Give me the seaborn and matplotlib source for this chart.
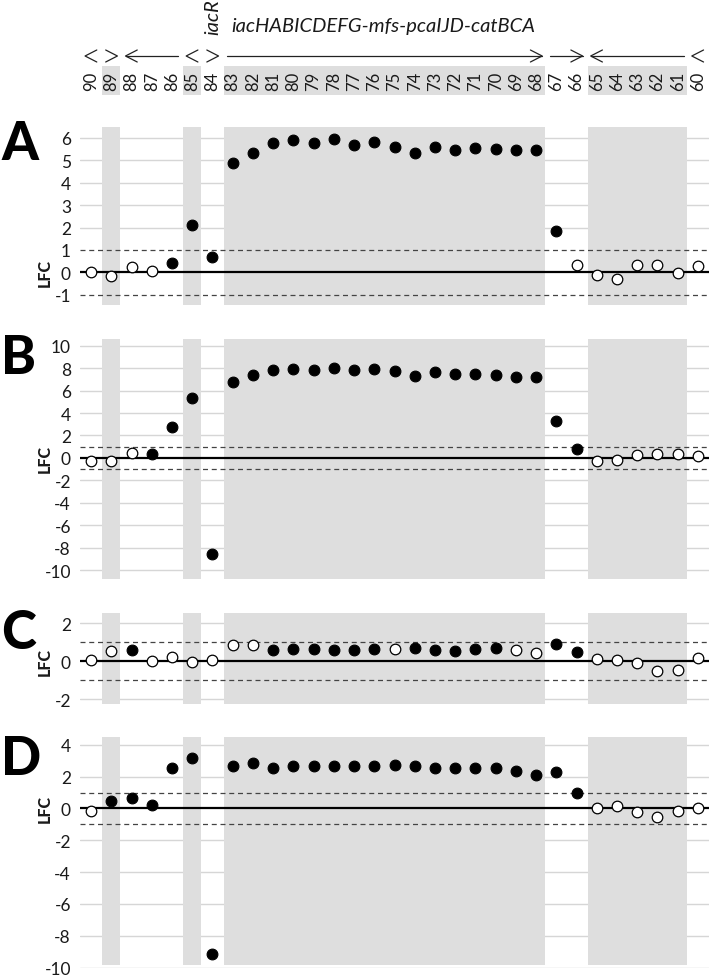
import numpy as np
import pandas as pd
import matplotlib
matplotlib.use('Agg')
import matplotlib.pyplot as plt
import matplotlib.transforms as mtransforms
from matplotlib.patches import Rectangle
import seaborn as sns

# gene numbers along the top (left to right)
genes = [90, 89, 88, 87, 86, 85, 84, 83, 82, 81, 80, 79, 78, 77, 76, 75,
         74, 73, 72, 71, 70, 69, 68, 67, 66, 65, 64, 63, 62, 61, 60]

# log fold changes per panel, and whether the point is significant (filled)
lfc_a = [0.0, -0.18, 0.25, 0.06, 0.43, 2.13, 0.68, 4.88, 5.33, 5.79, 5.89, 5.76, 5.95, 5.70, 5.80, 5.58,
         5.33, 5.60, 5.48, 5.54, 5.49, 5.46, 5.48, 1.85, 0.33, -0.13, -0.30, 0.31, 0.33, -0.03, 0.30]
sig_a = [0, 0, 0, 0, 1, 1, 1, 1, 1, 1, 1, 1, 1, 1, 1, 1,
         1, 1, 1, 1, 1, 1, 1, 1, 0, 0, 0, 0, 0, 0, 0]

lfc_b = [-0.24, -0.24, 0.42, 0.33, 2.74, 5.33, -8.57, 6.76, 7.41, 7.80, 7.95, 7.86, 8.00, 7.86, 7.89, 7.71,
         7.32, 7.62, 7.50, 7.50, 7.41, 7.23, 7.17, 3.27, 0.83, -0.24, -0.15, 0.24, 0.36, 0.33, 0.21]
sig_b = [0, 0, 0, 1, 1, 1, 1, 1, 1, 1, 1, 1, 1, 1, 1, 1,
         1, 1, 1, 1, 1, 1, 1, 1, 1, 0, 0, 0, 0, 0, 0]

lfc_c = [0.05, 0.52, 0.56, 0.02, 0.21, -0.05, 0.03, 0.82, 0.82, 0.59, 0.63, 0.61, 0.58, 0.58, 0.63, 0.65,
         0.68, 0.56, 0.54, 0.61, 0.68, 0.58, 0.42, 0.89, 0.47, 0.13, 0.06, -0.12, -0.54, -0.47, 0.15]
sig_c = [0, 0, 1, 0, 0, 0, 0, 0, 0, 1, 1, 1, 1, 1, 1, 0,
         1, 1, 1, 1, 1, 0, 0, 1, 1, 0, 0, 0, 0, 0, 0]

lfc_d = [-0.13, 0.48, 0.67, 0.21, 2.53, 3.14, -9.17, 2.67, 2.88, 2.57, 2.67, 2.67, 2.67, 2.67, 2.69, 2.74,
         2.67, 2.55, 2.55, 2.55, 2.57, 2.34, 2.08, 2.29, 0.95, 0.0, 0.15, -0.25, -0.55, -0.15, 0.0]
sig_d = [0, 1, 1, 1, 1, 1, 1, 1, 1, 1, 1, 1, 1, 1, 1, 1,
         1, 1, 1, 1, 1, 1, 1, 1, 1, 0, 0, 0, 0, 0, 0]

# shaded gene blocks (first, last index) and operon arrows (first, last, direction)
shade_groups = [(1, 1), (5, 5), (7, 22), (25, 29)]
operons = [(0, 0, -1), (1, 1, 1), (2, 4, -1), (5, 5, -1), (6, 6, 1),
           (7, 22, 1), (23, 24, 1), (25, 29, -1), (30, 30, -1)]

sns.set_theme(style='white')
plt.rcParams['font.family'] = ['Lato', 'DejaVu Sans']
plt.rcParams['axes.unicode_minus'] = False

W, H = 714, 978
fig = plt.figure(figsize=(W / 100, H / 100), dpi=100)
XLIM = (-0.55, 30.55)
SHADE = '#dedede'
TXT = '#1a1a1a'


def px_axes(top, bottom):
    return fig.add_axes([80 / W, 1 - bottom / H, 629 / W, (bottom - top) / H])


# header with gene numbers and arrows
hax = px_axes(0, 100)
hax.set_xlim(*XLIM)
hax.set_ylim(100, 0)
hax.axis('off')
for s, e in shade_groups:
    hax.add_patch(Rectangle((s - 0.45, 67), e - s + 0.9, 29, color=SHADE, lw=0))
for i, g in enumerate(genes):
    hax.text(i, 81.5, str(g), rotation=90, ha='center', va='center', fontsize=12, color=TXT)


def chevron(tip, d):
    hax.plot([tip - d * 0.58, tip, tip - d * 0.58], [51, 57, 63], color='#222', lw=0.9)


for s, e, d in operons:
    if s == e:
        chevron(s + d * 0.3, d)
    else:
        hax.plot([s - 0.3, e + 0.3], [57, 57], color='#222', lw=0.9)
        chevron(e + 0.3 if d > 0 else s - 0.3, d)

hax.text(6, 35, 'iacR', rotation=90, ha='center', va='bottom', style='italic', fontsize=14.5, color=TXT)
hax.text(6.95, 32, 'iacHABICDEFG-mfs-pcaIJD-catBCA', ha='left', va='baseline',
         style='italic', fontsize=14.5, color=TXT)

panels = [
    ('A', lfc_a, sig_a, 128, 306, (-1.46, 6.49), list(range(-1, 7)), None, 145),
    ('B', lfc_b, sig_b, 340, 580, (-10.8, 10.6), list(range(-10, 11, 2)), None, 359),
    ('C', lfc_c, sig_c, 614, 705, (-2.26, 2.53), [-2, 0, 2], None, 634),
    ('D', lfc_d, sig_d, 738, 969, (-10.03, 4.49), list(range(-10, 5, 2)), -9.83, 760),
]

for letter, vals, sig, top, bottom, ylim, ticks, shade_lo, letter_y in panels:
    ax = px_axes(top, bottom)
    ax.set_xlim(*XLIM)
    ax.set_ylim(*ylim)
    df = pd.DataFrame({'x': range(len(genes)), 'lfc': vals, 'sig': sig})

    for t in ticks:
        if t not in (0, 1, -1):
            ax.axhline(t, color='#d6d6d6', lw=1, zorder=0)
    ymin = 0 if shade_lo is None else (shade_lo - ylim[0]) / (ylim[1] - ylim[0])
    for s, e in shade_groups:
        ax.axvspan(s - 0.45, e + 0.45, ymin=ymin, ymax=1, color=SHADE, lw=0, zorder=1)
    ax.axhline(0, color='black', lw=1.6, zorder=2)
    for v in (1, -1):
        ax.axhline(v, color='#444', lw=0.9, ls=(0, (4, 3)), zorder=2)

    sns.scatterplot(data=df[df['sig'] == 1], x='x', y='lfc', color='black', edgecolor='black',
                    s=60, linewidth=0.8, ax=ax, zorder=3)
    sns.scatterplot(data=df[df['sig'] == 0], x='x', y='lfc', color='white', edgecolor='black',
                    s=58, linewidth=0.9, ax=ax, zorder=3)

    ax.set_yticks(ticks)
    ax.set_yticklabels([str(t) for t in ticks])
    ax.set_xticks([])
    ax.set_xlabel('')
    ax.set_ylabel('')
    ax.tick_params(axis='y', length=0, pad=6.5, labelsize=12.5, labelcolor=TXT)
    sns.despine(ax=ax, left=True, bottom=True)
    ax.grid(False)

    trans = mtransforms.blended_transform_factory(ax.transAxes, ax.transData)
    ax.text(-0.0556, 0, 'LFC', transform=trans, rotation=90, ha='center', va='center',
            fontweight='black', fontsize=11.5, color=TXT)
    fig.text(1 / W, 1 - letter_y / H, letter, fontsize=38, fontweight='black',
             ha='left', va='center', color='black')

fig.savefig('out.png', dpi=100)
